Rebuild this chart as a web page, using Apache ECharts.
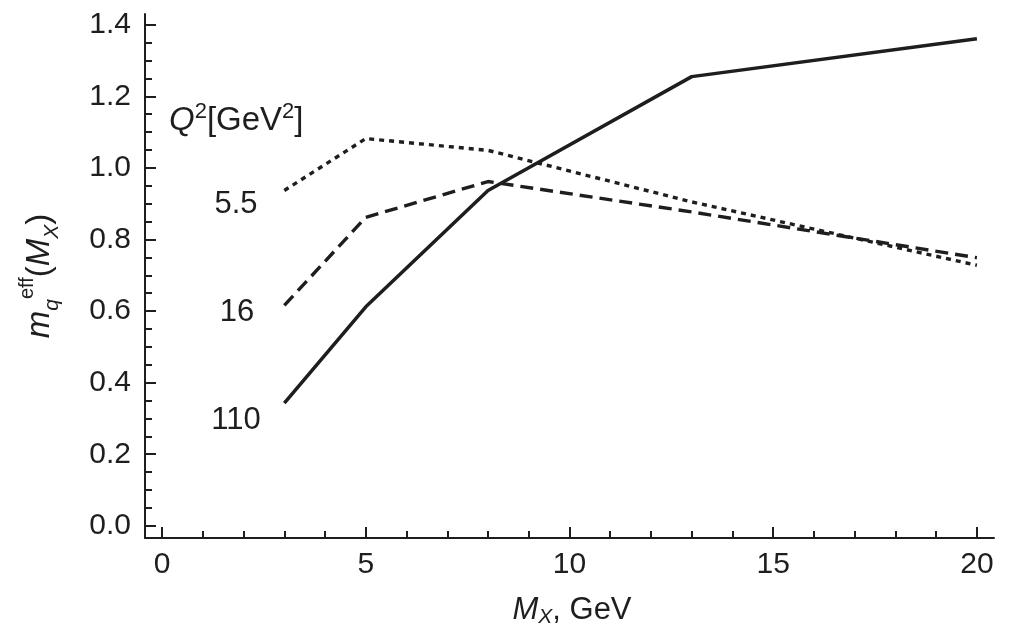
<!DOCTYPE html>
<html>
<head>
<meta charset="utf-8">
<script src="https://cdn.jsdelivr.net/npm/echarts@6/dist/echarts.min.js"></script>
<style>
  html, body { margin: 0; padding: 0; background: #fff; }
  #main { width: 1013px; height: 627px; }
</style>
</head>
<body>
<div id="main"></div>
<script>
// M_X values (GeV)
var mx = [3, 5, 8, 13, 20];
// m_q^eff for each Q^2
var q55 = [0.937, 1.082, 1.049, 0.905, 0.728];
var q16 = [0.616, 0.862, 0.962, 0.877, 0.749];
var q110 = [0.343, 0.612, 0.937, 1.255, 1.361];
var seriesNames = ['5.5', '16', '110'];

var xMajor = [0, 5, 10, 15, 20];
var xMinor = [0,1,2,3,4,5,6,7,8,9,10,11,12,13,14,15,16,17,18,19,20];
var yMajor = [0, 0.2, 0.4, 0.6, 0.8, 1.0, 1.2, 1.4];
var yMinor = [];
for (var k = 0; k <= 28; k++) yMinor.push(k / 20);

var font = 'Liberation Sans, Arial, Helvetica, sans-serif';
var ink = '#1e1e1e';

function pairs(ys) {
  return mx.map(function (x, i) { return [x, ys[i]]; });
}

var gridBox = { left: 145, right: 19, top: 14, bottom: 89, outerBoundsMode: 'none', containLabel: false };
var xRange = { min: -0.42, max: 20.42 };
var yRange = { min: -0.034, max: 1.43 };

var chart = echarts.init(document.getElementById('main'));
var option = {
  animation: false,
  backgroundColor: '#fff',
  grid: [
    Object.assign({}, gridBox),
    Object.assign({}, gridBox)
  ],
  xAxis: [
    {
      type: 'value', gridIndex: 0, min: xRange.min, max: xRange.max,
      splitLine: { show: false },
      axisLine: { onZero: false, lineStyle: { color: ink, width: 2 } },
      axisTick: { inside: true, length: 11, customValues: xMajor, lineStyle: { color: ink, width: 2 } },
      axisLabel: { customValues: xMajor, fontSize: 30, margin: 12, color: ink, fontFamily: font }
    },
    {
      type: 'value', gridIndex: 1, min: xRange.min, max: xRange.max,
      splitLine: { show: false },
      axisLine: { show: false, onZero: false },
      axisTick: { inside: true, length: 7, customValues: xMinor, lineStyle: { color: ink, width: 2 } },
      axisLabel: { show: false }
    }
  ],
  yAxis: [
    {
      type: 'value', gridIndex: 0, min: yRange.min, max: yRange.max,
      splitLine: { show: false },
      axisLine: { onZero: false, lineStyle: { color: ink, width: 2 } },
      axisTick: { inside: true, length: 11, customValues: yMajor, lineStyle: { color: ink, width: 2 } },
      axisLabel: {
        customValues: yMajor, fontSize: 30, margin: 14, color: ink, fontFamily: font,
        formatter: function (v) { return v.toFixed(1); }
      }
    },
    {
      type: 'value', gridIndex: 1, min: yRange.min, max: yRange.max,
      splitLine: { show: false },
      axisLine: { show: false, onZero: false },
      axisTick: { inside: true, length: 7, customValues: yMinor, lineStyle: { color: ink, width: 2 } },
      axisLabel: { show: false }
    }
  ],
  graphic: [
    {
      type: 'text', x: 169, y: 121,
      style: {
        text: '{i|Q}{p|2}{n|[GeV}{p|2}{n|]}',
        verticalAlign: 'middle',
        rich: {
          i: { fontSize: 33, fontStyle: 'italic', fontFamily: font, fill: ink, lineHeight: 40 },
          n: { fontSize: 33, fontFamily: font, fill: ink, lineHeight: 40 },
          p: { fontSize: 22, fontFamily: font, fill: ink, lineHeight: 24, verticalAlign: 'top' }
        }
      }
    },
    {
      type: 'text', x: 572, y: 610,
      style: {
        text: '{i|M}{s|X}{n|, GeV}',
        align: 'center', verticalAlign: 'middle',
        rich: {
          i: { fontSize: 31, fontStyle: 'italic', fontFamily: font, fill: ink, lineHeight: 36 },
          s: { fontSize: 21, fontStyle: 'italic', fontFamily: font, fill: ink, lineHeight: 18, verticalAlign: 'bottom' },
          n: { fontSize: 31, fontFamily: font, fill: ink, lineHeight: 36 }
        }
      }
    },
    { type: 'text', x: 236, y: 204, style: { text: seriesNames[0], fontSize: 31, fontFamily: font, fill: ink, align: 'center', verticalAlign: 'middle' } },
    { type: 'text', x: 237, y: 312, style: { text: seriesNames[1], fontSize: 31, fontFamily: font, fill: ink, align: 'center', verticalAlign: 'middle' } },
    { type: 'text', x: 236, y: 420, style: { text: seriesNames[2], fontSize: 31, fontFamily: font, fill: ink, align: 'center', verticalAlign: 'middle' } },
    {
      type: 'text', x: 40, y: 276, rotation: Math.PI / 2,
      style: {
        text: '{i|m}{s|q}{p|eff}{n|(}{i|M}{s|X}{n|)}',
        align: 'center', verticalAlign: 'middle',
        rich: {
          i: { fontSize: 33, fontStyle: 'italic', fontFamily: font, fill: ink, lineHeight: 46 },
          n: { fontSize: 33, fontFamily: font, fill: ink, lineHeight: 46 },
          s: { fontSize: 21, fontStyle: 'italic', fontFamily: font, fill: ink, lineHeight: 18, verticalAlign: 'bottom' },
          p: { fontSize: 20, fontFamily: font, fill: ink, lineHeight: 20, verticalAlign: 'top' }
        }
      }
    }
  ],
  series: [
    {
      name: seriesNames[0], type: 'line', xAxisIndex: 0, yAxisIndex: 0,
      data: pairs(q55), showSymbol: false, symbol: 'none',
      lineStyle: { color: ink, width: 3.4, type: [5, 5] }
    },
    {
      name: seriesNames[1], type: 'line', xAxisIndex: 0, yAxisIndex: 0,
      data: pairs(q16), showSymbol: false, symbol: 'none',
      lineStyle: { color: ink, width: 3.4, type: [13, 7] }
    },
    {
      name: seriesNames[2], type: 'line', xAxisIndex: 0, yAxisIndex: 0,
      data: pairs(q110), showSymbol: false, symbol: 'none',
      lineStyle: { color: ink, width: 3.5 }
    }
  ]
};
chart.setOption(option);
</script>
</body>
</html>
